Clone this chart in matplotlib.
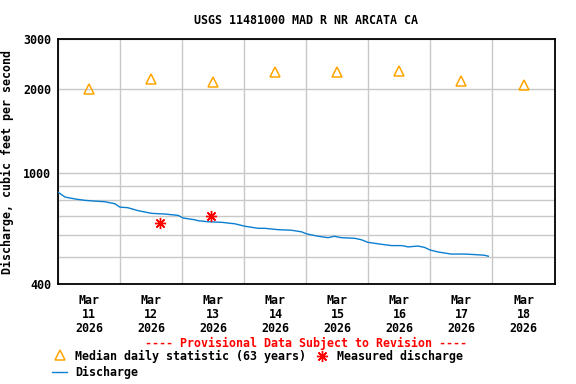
import numpy as np
import pandas as pd
import matplotlib
matplotlib.use("Agg")
import matplotlib.pyplot as plt
from matplotlib.lines import Line2D

# discharge, hours since 2026-03-11 00:00 and cfs
flow_hours = [0.0, 2.6, 6.5, 10.3, 14.2, 18.0, 21.9, 23.8, 26.9, 30.9,
              36.1, 41.3, 46.4, 48.3, 52.8, 54.1, 58.0, 63.2, 68.3, 72.2,
              77.3, 79.9, 85.0, 90.2, 94.1, 96.0, 100.5, 104.4, 106.9, 108.2,
              109.5, 114.7, 117.3, 119.8, 125.0, 128.9, 132.7, 134.0, 135.3, 139.1,
              141.7, 143.7, 146.9, 152.0, 157.2, 162.3, 164.9, 166.4]
flow_cfs = [852, 820, 807, 798, 793, 789, 776, 755, 751, 733,
            717, 713, 705, 690, 680, 675, 669, 666, 658, 645,
            634, 634, 627, 624, 616, 606, 594, 587, 594, 590,
            587, 584, 577, 565, 556, 550, 550, 548, 544, 548,
            542, 531, 522, 513, 513, 510, 508, 504]

median_days = ["2026-03-11", "2026-03-12", "2026-03-13", "2026-03-14",
               "2026-03-15", "2026-03-16", "2026-03-17", "2026-03-18"]
median_cfs = [1990, 2160, 2110, 2290, 2285, 2305, 2125, 2055]

measured_times = ["2026-03-12 15:25", "2026-03-13 11:10"]
measured_cfs = [661, 700]

tick_labels = ["Mar\n%d\n2026" % d for d in range(11, 19)]

start = pd.Timestamp("2026-03-11")
flow_t = start + pd.to_timedelta(flow_hours, unit="h")
median_t = pd.to_datetime(median_days) + pd.Timedelta(hours=12)
meas_t = pd.to_datetime(measured_times)

font = dict(family="DejaVu Sans Mono", weight="bold", size=8.4)
plt.rcParams["font.family"] = "DejaVu Sans Mono"
plt.rcParams["font.weight"] = "bold"

fig = plt.figure(figsize=(5.76, 3.84), dpi=100)
ax = fig.add_axes([0.1012, 0.2596, 0.8615, 0.6380])

ax.plot(flow_t, flow_cfs, color="#0a7fd0", lw=1.0, zorder=3)
ax.plot(median_t, median_cfs, ls="none", marker="^", ms=6.5,
        mfc="none", mec="#ffa500", mew=1.1, zorder=4)
ax.plot(meas_t, measured_cfs, ls="none", marker=(8, 2, 0), ms=8,
        mec="#ff0000", mew=1.0, zorder=5)

ax.set_yscale("log")
ax.set_ylim(400, 3000)
ax.set_xlim(start, start + pd.Timedelta(days=8))

ax.set_yticks([400, 1000, 2000, 3000])
ax.set_yticklabels(["400", "1000", "2000", "3000"], **font)
ax.set_yticks([500, 600, 700, 800, 900], minor=True)
ax.yaxis.set_minor_formatter(matplotlib.ticker.NullFormatter())

ax.set_xticks(pd.date_range(start, periods=9, freq="D"), minor=True)
ax.set_xticks(median_t)
ax.set_xticklabels(tick_labels, linespacing=1.08, **font)

ax.tick_params(which="both", length=0)
ax.tick_params(axis="y", pad=5)
ax.tick_params(axis="x", pad=7)
ax.grid(which="minor", color="#c8c8c8", lw=1.0)
ax.grid(which="major", axis="y", color="#c8c8c8", lw=1.0)
for s in ax.spines.values():
    s.set_linewidth(1.3)

ax.set_title("USGS 11481000 MAD R NR ARCATA CA", pad=11, **font)
ax.set_ylabel("Discharge, cubic feet per second", labelpad=7, **font)

fig.text(306 / 576, 1 - 343 / 384, "---- Provisional Data Subject to Revision ----",
         color="#ff0000", ha="center", va="center", **font)

# legend drawn by hand
fig.add_artist(Line2D([60 / 576], [1 - 355 / 384], transform=fig.transFigure,
                      ls="none", marker="^", ms=6.5, mfc="none", mec="#ffa500", mew=1.1))
fig.text(75 / 576, 1 - 356 / 384, "Median daily statistic (63 years)",
         ha="left", va="center", **font)
fig.add_artist(Line2D([322 / 576], [1 - 356 / 384], transform=fig.transFigure,
                      ls="none", marker=(8, 2, 0), ms=8, mec="#ff0000", mew=1.0))
fig.text(337 / 576, 1 - 356 / 384, "Measured discharge",
         ha="left", va="center", **font)
fig.add_artist(Line2D([52 / 576, 67 / 576], [1 - 372 / 384] * 2,
                      transform=fig.transFigure, color="#0a7fd0", lw=1.0))
fig.text(75 / 576, 1 - 372 / 384, "Discharge", ha="left", va="center", **font)

fig.savefig("out.png", dpi=100)
